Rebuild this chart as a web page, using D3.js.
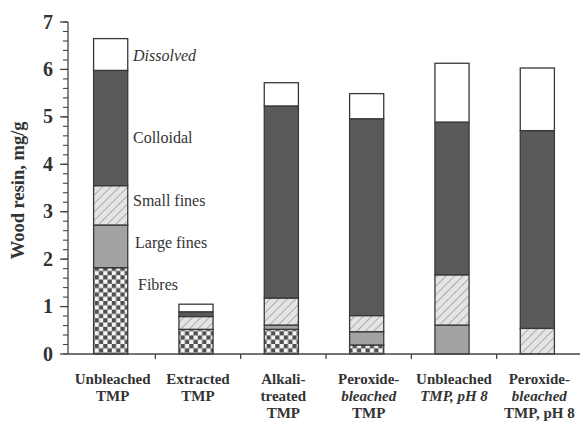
<!DOCTYPE html>
<html>
<head>
<meta charset="utf-8">
<script src="https://cdn.jsdelivr.net/npm/d3@7"></script>
<style>
  html, body { margin: 0; padding: 0; background: #fff; }
  svg { display: block; }
  text { font-family: "Liberation Serif", "DejaVu Serif", serif; fill: #333; }
</style>
</head>
<body>
<div id="chart"></div>
<script>
// Pulp samples along the x axis (one line of text per entry)
const categoryLines = [
  ["Unbleached", "TMP"],
  ["Extracted", "TMP"],
  ["Alkali-", "treated", "TMP"],
  ["Peroxide-", "bleached", "TMP"],
  ["Unbleached", "TMP, pH 8"],
  ["Peroxide-", "bleached", "TMP, pH 8"]
];
// line indexes set in italics
const italicLines = [[], [], [], [1], [1], [1]];

// Resin fractions, stacked from the bottom up (mg/g)
const seriesNames = ["Fibres", "Large fines", "Small fines", "Colloidal", "Dissolved"];
const fibres     = [1.82, 0.52, 0.52, 0.19, 0.00, 0.00];
const largeFines = [0.90, 0.00, 0.09, 0.28, 0.61, 0.00];
const smallFines = [0.83, 0.27, 0.57, 0.34, 1.06, 0.54];
const colloidal  = [2.43, 0.10, 4.05, 4.15, 3.22, 4.17];
const dissolved  = [0.67, 0.16, 0.49, 0.53, 1.24, 1.32];

// Where each series name is written beside the first bar (mg/g, text baseline)
const seriesLabelAt = [1.35, 2.23, 3.12, 4.45, 6.17];

const yTicks = [0, 1, 2, 3, 4, 5, 6, 7];

const W = 581, H = 421;
const svg = d3.select("#chart").append("svg").attr("width", W).attr("height", H);

const x = d3.scaleBand().domain(d3.range(categoryLines.length)).range([68, 580]).paddingInner(0.6).paddingOuter(0.3);
const xOuter = d3.scaleBand().domain(d3.range(categoryLines.length)).range([68, 580]);
const y = d3.scaleLinear().domain([0, 7]).range([354, 22]);

// Fill patterns
const defs = svg.append("defs");
const cs = 4.3;
const checker = defs.append("pattern").attr("id", "checker").attr("patternUnits", "userSpaceOnUse")
  .attr("width", 2 * cs).attr("height", 2 * cs);
checker.append("rect").attr("width", 2 * cs).attr("height", 2 * cs).attr("fill", "#f4f4f4");
checker.append("rect").attr("width", cs).attr("height", cs).attr("fill", "#505050");
checker.append("rect").attr("x", cs).attr("y", cs).attr("width", cs).attr("height", cs).attr("fill", "#505050");

const hatch = defs.append("pattern").attr("id", "hatch").attr("patternUnits", "userSpaceOnUse")
  .attr("width", 6).attr("height", 6).attr("patternTransform", "rotate(45)");
hatch.append("rect").attr("width", 6).attr("height", 6).attr("fill", "#e4e4e4");
hatch.append("line").attr("x1", 0).attr("y1", 0).attr("x2", 0).attr("y2", 6)
  .attr("stroke", "#ababab").attr("stroke-width", 2);

const fills = ["url(#checker)", "#a3a3a3", "url(#hatch)", "#5a5a5a", "#ffffff"];

const table = categoryLines.map((_, i) => ({
  i,
  "Fibres": fibres[i],
  "Large fines": largeFines[i],
  "Small fines": smallFines[i],
  "Colloidal": colloidal[i],
  "Dissolved": dissolved[i]
}));
const stacked = d3.stack().keys(seriesNames)(table);

// Bars
const layers = svg.append("g").selectAll("g").data(stacked).join("g")
  .attr("fill", (d, k) => fills[k]);
layers.selectAll("rect").data(d => d.filter(s => s[1] - s[0] > 0)).join("rect")
  .attr("x", s => x(s.data.i))
  .attr("width", x.bandwidth())
  .attr("y", s => y(s[1]))
  .attr("height", s => y(s[0]) - y(s[1]))
  .attr("stroke", "#383838")
  .attr("stroke-width", 1.3);

// Y axis
const yAxis = svg.append("g").attr("transform", "translate(68,0)");
yAxis.append("line").attr("x1", 0).attr("x2", 0).attr("y1", y(0)).attr("y2", y(7))
  .attr("stroke", "#444").attr("stroke-width", 1.3);
yAxis.selectAll("line.minor").data(d3.range(0, 7.001, 0.2)).join("line").attr("class", "minor")
  .attr("x1", -5).attr("x2", 0).attr("y1", d => y(d)).attr("y2", d => y(d))
  .attr("stroke", "#444").attr("stroke-width", 1.1);
yAxis.selectAll("line.major").data(yTicks).join("line").attr("class", "major")
  .attr("x1", -8).attr("x2", 0).attr("y1", d => y(d)).attr("y2", d => y(d))
  .attr("stroke", "#444").attr("stroke-width", 1.3);
yAxis.selectAll("text").data(yTicks).join("text")
  .attr("x", -15).attr("y", d => y(d) + 6.5)
  .attr("text-anchor", "end")
  .attr("font-size", 20).attr("font-weight", "bold")
  .text(d => d);

svg.append("text")
  .attr("transform", `translate(24,${y(3.45)}) rotate(-90)`)
  .attr("text-anchor", "middle")
  .attr("font-size", 18.5).attr("font-weight", "bold")
  .text("Wood resin, mg/g");

// X axis
const xAxis = svg.append("g");
xAxis.append("line").attr("x1", 68).attr("x2", 580).attr("y1", y(0)).attr("y2", y(0))
  .attr("stroke", "#444").attr("stroke-width", 1.3);
xAxis.selectAll("line.tick").data(d3.range(1, categoryLines.length)).join("line").attr("class", "tick")
  .attr("x1", i => xOuter(i) + 2).attr("x2", i => xOuter(i) + 2)
  .attr("y1", y(0)).attr("y2", y(0) + 5)
  .attr("stroke", "#444").attr("stroke-width", 1.3);

const xl = xAxis.selectAll("text").data(categoryLines).join("text")
  .attr("text-anchor", "middle")
  .attr("font-size", 15).attr("font-weight", "bold");
xl.each(function(lines, i) {
  const t = d3.select(this);
  lines.forEach((ln, j) => {
    t.append("tspan")
      .attr("x", x(i) + x.bandwidth() / 2 + 2)
      .attr("y", 384 + j * 17)
      .attr("font-style", italicLines[i].includes(j) ? "italic" : "normal")
      .text(ln);
  });
});

// Series names beside the first bar
svg.append("g").selectAll("text").data(seriesNames).join("text")
  .attr("x", (d, k) => k === 0 ? 138 : k === 1 ? 135 : 133)
  .attr("y", (d, k) => y(seriesLabelAt[k]))
  .attr("font-size", 16)
  .attr("font-style", d => d === "Dissolved" ? "italic" : "normal")
  .text(d => d);
</script>
</body>
</html>
